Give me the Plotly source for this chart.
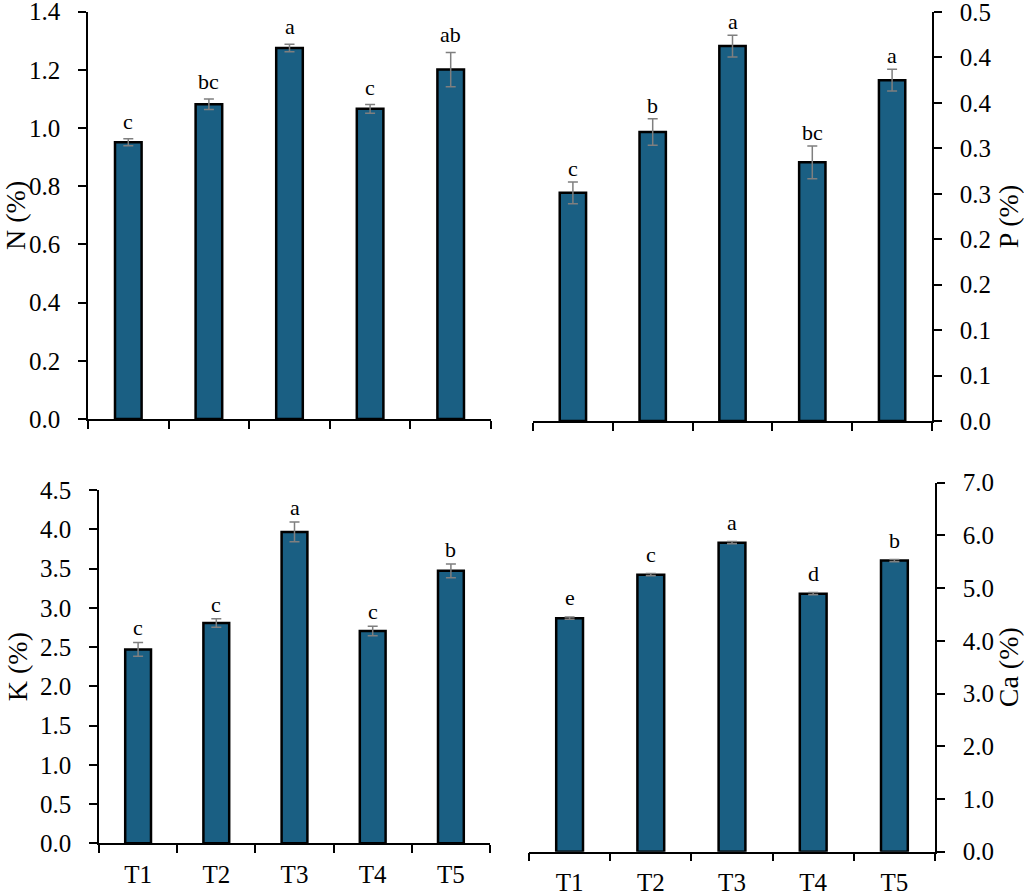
import plotly.graph_objects as go

# Traitements
treatments = ["T1", "T2", "T3", "T4", "T5"]

# Valeurs moyennes et erreurs
n_mean = [0.951, 1.082, 1.275, 1.066, 1.201]
n_err = [0.012, 0.018, 0.013, 0.015, 0.059]
n_letters = ["c", "bc", "a", "c", "ab"]

p_mean = [0.251, 0.318, 0.4125, 0.2846, 0.375]
p_err = [0.012, 0.0145, 0.012, 0.018, 0.012]
p_letters = ["c", "b", "a", "bc", "a"]

k_mean = [2.47, 2.806, 3.966, 2.705, 3.47]
k_err = [0.089, 0.055, 0.125, 0.06, 0.089]
k_letters = ["c", "c", "a", "c", "b"]

ca_mean = [4.43, 5.256, 5.863, 4.895, 5.522]
ca_err = [0.02, 0.02, 0.02, 0.02, 0.02]
ca_letters = ["e", "c", "a", "d", "b"]

# Graduations de l'axe P (arrondies à une décimale comme dans Excel)
p_tickvals = [0, 0.05, 0.10, 0.15, 0.20, 0.25, 0.30, 0.35, 0.40, 0.45]
p_ticktext = ["0.0", "0.1", "0.1", "0.2", "0.2", "0.3", "0.3", "0.4", "0.4", "0.5"]

W, H = 1024, 892
FONT = "Liberation Serif"
BAR_COLOR = "#1a5f83"


def dom_x(left, right):
    return [left / W, right / W]


def dom_y(top, bottom):
    return [1 - bottom / H, 1 - top / H]


fig = go.Figure()

panels = [
    # (moyennes, erreurs, lettres, axe x, axe y, décalage des lettres en px)
    (n_mean, n_err, n_letters, "x", "y", 3),
    (p_mean, p_err, p_letters, "x2", "y2", -1),
    (k_mean, k_err, k_letters, "x3", "y3", 0),
    (ca_mean, ca_err, ca_letters, "x4", "y4", 5),
]

for mean, err, letters, xa, ya, shift in panels:
    fig.add_trace(go.Bar(
        x=treatments,
        y=mean,
        width=0.33,
        marker=dict(color=BAR_COLOR, line=dict(color="black", width=2.5)),
        error_y=dict(type="data", array=err, color="#7f7f7f", thickness=1.5, width=5),
        xaxis=xa, yaxis=ya,
        showlegend=False,
    ))
    for t, m, e, lab in zip(treatments, mean, err, letters):
        fig.add_annotation(
            x=t, y=m + e, xref=xa, yref=ya,
            text=lab, showarrow=False,
            xanchor="center", yanchor="bottom", yshift=shift,
            font=dict(family=FONT, size=22, color="black"),
        )

xcommon = dict(
    type="category",
    showline=True, linecolor="black", linewidth=1.5,
    ticks="outside", tickson="boundaries", ticklen=8, tickwidth=1.5, tickcolor="black",
    tickfont=dict(family=FONT, size=25, color="black"),
    ticklabelstandoff=8,
    showgrid=False, zeroline=False, automargin=False,
    range=[-0.5, 4.5],
)
ycommon = dict(
    showline=True, linecolor="black", linewidth=1.5,
    ticks="outside", ticklen=8, tickwidth=1.5, tickcolor="black",
    tickfont=dict(family=FONT, size=25, color="black"),
    ticklabelstandoff=13, ticklabeloverflow="allow",
    showgrid=False, zeroline=False, automargin=False,
    title_font=dict(family=FONT, size=28, color="black"),
    title_standoff=4,
)

fig.update_layout(
    width=W, height=H,
    margin=dict(l=0, r=0, t=0, b=0),
    paper_bgcolor="white", plot_bgcolor="white",
    font=dict(family=FONT, color="black"),
    xaxis=dict(xcommon, domain=dom_x(88, 491), anchor="y", showticklabels=False),
    yaxis=dict(ycommon, domain=dom_y(11.7, 419), anchor="x", range=[0, 1.4],
               dtick=0.2, tickformat=".1f", title_text="N (%)"),
    xaxis2=dict(xcommon, domain=dom_x(533, 932), anchor="y2", showticklabels=False),
    yaxis2=dict(ycommon, domain=dom_y(12, 421), anchor="x2", range=[0, 0.45],
                side="right", tickvals=p_tickvals, ticktext=p_ticktext,
                title_text="P (%)", title_standoff=14),
    xaxis3=dict(xcommon, domain=dom_x(99, 490), anchor="y3"),
    yaxis3=dict(ycommon, domain=dom_y(490, 843.3), anchor="x3", range=[0, 4.5],
                dtick=0.5, tickformat=".1f", title_text="K (%)"),
    xaxis4=dict(xcommon, domain=dom_x(529, 935), anchor="y4"),
    yaxis4=dict(ycommon, domain=dom_y(482.7, 851.7), anchor="x4", range=[0, 7],
                side="right", dtick=1, tickformat=".1f",
                title_text="Ca (%)", title_standoff=14),
)

# la page ne doit pas ajouter la marge par défaut du navigateur
fig.write_html("out.html", config={"displayModeBar": False},
               post_script="document.body.style.margin='0';")
